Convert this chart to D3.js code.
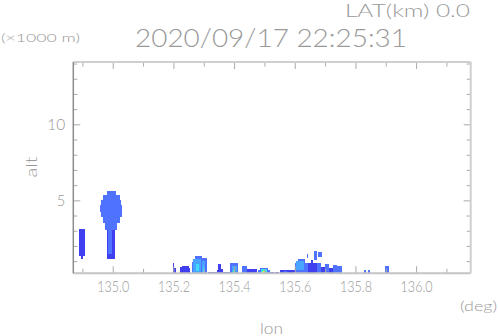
<!DOCTYPE html>
<html>
<head>
<meta charset="utf-8">
<script src="https://cdn.jsdelivr.net/npm/d3@7"></script>
<style>
  body { margin: 0; background: #fff; }
  text { font-family: Lato, "DejaVu Sans", sans-serif; font-weight: 300; fill: #999; }
</style>
</head>
<body>
<div id="chart"></div>
<script>
// axis ranges
var lonRange = [134.87, 136.18];
var altRange = [0.2, 14.1];
var lonMajor = [135.0, 135.2, 135.4, 135.6, 135.8, 136.0];
var lonMinor = [134.9, 135.1, 135.3, 135.5, 135.7, 135.9, 136.1];
var altMajor = [5, 10];
var altMinor = [1, 2, 3, 4, 6, 7, 8, 9, 11, 12, 13, 14];

// echo cells: [lon0, lon1, alt0 (km), alt1 (km), rain rate (mm/h)]
var westColumn = [
  [134.889, 134.909, 1.34, 3.11, 0.5],
  [134.894, 134.903, 1.14, 1.34, 0.5]
];
var mainCell = [
  [134.980, 135.011, 5.36, 5.64, 1.5],
  [134.969, 135.024, 5.02, 5.36, 1.5],
  [134.962, 135.027, 4.7, 5.02, 1.5],
  [134.958, 135.030, 4.2, 4.7, 1.5],
  [134.962, 135.030, 3.92, 4.2, 1.5],
  [134.969, 135.024, 3.49, 3.92, 1.5],
  [134.975, 135.015, 3.05, 3.49, 1.5],
  [134.980, 135.007, 1.14, 3.05, 0.5],
  [134.985, 134.996, 1.5, 3.05, 1.5]
];
var lowBand = [
  [135.198, 135.203, 0.2, 0.86, 0.5],
  [135.203, 135.208, 0.2, 0.55, 0.5],
  [135.222, 135.228, 0.2, 0.6, 0.5],
  [135.228, 135.250, 0.2, 0.7, 0.5],
  [135.250, 135.255, 0.2, 0.55, 0.5],
  [135.260, 135.271, 0.2, 0.96, 1.5],
  [135.271, 135.293, 0.2, 1.34, 1.5],
  [135.293, 135.310, 0.2, 1.19, 1.5],
  [135.265, 135.290, 0.2, 1.15, 3],
  [135.294, 135.305, 0.2, 1.0, 3],
  [135.275, 135.285, 0.35, 0.8, 7],
  [135.297, 135.302, 0.3, 0.6, 7],
  [135.314, 135.343, 0.2, 0.3, 0.5],
  [135.343, 135.348, 0.2, 0.4, 0.5],
  [135.348, 135.358, 0.2, 0.81, 0.5],
  [135.358, 135.364, 0.2, 0.5, 0.5],
  [135.364, 135.387, 0.2, 0.28, 0.5],
  [135.387, 135.414, 0.2, 0.9, 1.5],
  [135.392, 135.408, 0.2, 0.7, 3],
  [135.397, 135.403, 0.2, 0.4, 12],
  [135.425, 135.444, 0.2, 0.68, 1.5],
  [135.444, 135.475, 0.2, 0.46, 0.5],
  [135.480, 135.487, 0.2, 0.4, 1.5],
  [135.487, 135.511, 0.2, 0.53, 1.5],
  [135.511, 135.518, 0.2, 0.4, 1.5],
  [135.488, 135.510, 0.2, 0.45, 7],
  [135.492, 135.506, 0.22, 0.4, 12],
  [135.496, 135.503, 0.22, 0.35, 35],
  [135.498, 135.501, 0.24, 0.3, 60],
  [135.520, 135.530, 0.2, 0.3, 0.5],
  [135.535, 135.548, 0.2, 0.3, 0.5],
  [135.551, 135.601, 0.2, 0.42, 0.5],
  [135.565, 135.575, 0.2, 0.35, 1.5],
  [135.601, 135.645, 0.2, 0.86, 1.5],
  [135.612, 135.635, 0.86, 1.14, 1.5],
  [135.605, 135.630, 0.4, 1.0, 3],
  [135.645, 135.672, 0.2, 0.86, 0.5],
  [135.639, 135.645, 1.21, 1.47, 1.5],
  [135.663, 135.672, 1.08, 1.67, 1.5],
  [135.677, 135.689, 1.27, 1.60, 1.5],
  [135.655, 135.660, 0.9, 1.1, 0.5],
  [135.672, 135.685, 0.2, 0.86, 1.5],
  [135.685, 135.700, 0.2, 0.6, 0.5],
  [135.700, 135.712, 0.2, 0.8, 1.5],
  [135.712, 135.725, 0.2, 0.55, 0.5],
  [135.725, 135.740, 0.2, 0.75, 1.5],
  [135.740, 135.755, 0.2, 0.7, 1.5],
  [135.828, 135.835, 0.2, 0.42, 1.5],
  [135.840, 135.847, 0.2, 0.42, 1.5],
  [135.897, 135.912, 0.2, 0.68, 1.5]
];
var rateSteps = [1, 2, 5, 10, 20, 30, 50];
var rateColors = ["#4040f0", "#4f73ff", "#48a4ff", "#3edcff", "#40f0a8", "#b8f040", "#fff040", "#ff3020"];

var W = 498, H = 336;
var margin = { top: 62, right: 27.3, bottom: 62.7, left: 73.3 };
var width = W - margin.left - margin.right,
  height = H - margin.top - margin.bottom;

var svg = d3.select("#chart").append("svg")
  .attr("width", W)
  .attr("height", H);

var x = d3.scaleLinear().domain(lonRange).range([0, width]);
var y = d3.scaleLinear().domain(altRange).range([height, 0]);
var color = d3.scaleThreshold().domain(rateSteps).range(rateColors);

var g = svg.append("g")
  .attr("transform", "translate(" + margin.left + "," + margin.top + ")");

// echoes
var cells = westColumn.concat(mainCell, lowBand);
g.append("g").selectAll("rect")
  .data(cells)
  .enter()
  .append("rect")
  .attr("x", function (d) { return x(d[0]); })
  .attr("width", function (d) { return x(d[1]) - x(d[0]); })
  .attr("y", function (d) { return y(d[3]); })
  .attr("height", function (d) { return y(d[2]) - y(d[3]); })
  .attr("shape-rendering", "crispEdges")
  .style("fill", function (d) { return color(d[4]); });

// inward ticks on all four sides
function tickAxis(axis, tr) {
  var a = g.append("g").attr("transform", tr).call(axis);
  a.select(".domain").remove();
  a.selectAll("line").attr("stroke", "#aaa");
  return a;
}
var fmt = d3.format(".1f");
var xb = tickAxis(d3.axisBottom(x).tickValues(lonMajor).tickSize(-7).tickPadding(7).tickFormat(fmt),
  "translate(0," + height + ")");
tickAxis(d3.axisBottom(x).tickValues(lonMinor).tickSize(-4.5).tickFormat(""), "translate(0," + height + ")");
tickAxis(d3.axisTop(x).tickValues(lonMajor).tickSize(-7).tickFormat(""), "translate(0,0)");
tickAxis(d3.axisTop(x).tickValues(lonMinor).tickSize(-4.5).tickFormat(""), "translate(0,0)");
var yl = tickAxis(d3.axisLeft(y).tickValues(altMajor).tickSize(-7).tickPadding(8), "translate(0,0)");
tickAxis(d3.axisLeft(y).tickValues(altMinor).tickSize(-4).tickFormat(""), "translate(0,0)");
tickAxis(d3.axisRight(y).tickValues(altMajor).tickSize(-7).tickFormat(""), "translate(" + width + ",0)");
tickAxis(d3.axisRight(y).tickValues(altMinor).tickSize(-4).tickFormat(""), "translate(" + width + ",0)");

xb.selectAll("text")
  .attr("font-size", 16)
  .attr("fill", "#999")
  .attr("textLength", 32)
  .attr("lengthAdjust", "spacingAndGlyphs");
yl.selectAll("text")
  .attr("font-size", 16)
  .attr("fill", "#999")
  .attr("textLength", function (d) { return d >= 10 ? 18 : 8.5; })
  .attr("lengthAdjust", "spacingAndGlyphs");

// frame
g.append("line").attr("x1", 0).attr("x2", width).attr("y1", 0).attr("y2", 0)
  .attr("stroke", "#cfcfcf").attr("stroke-width", 2);
g.append("line").attr("x1", 0).attr("x2", width).attr("y1", height).attr("y2", height)
  .attr("stroke", "#c4c4c4").attr("stroke-width", 2);
g.append("line").attr("x1", width).attr("x2", width).attr("y1", 0).attr("y2", height)
  .attr("stroke", "#cfcfcf").attr("stroke-width", 2);
g.append("line").attr("x1", 0).attr("x2", 0).attr("y1", 0).attr("y2", height)
  .attr("stroke", "#8c8c8c").attr("stroke-width", 1.5);

// labels
function label(txt, px, py, size, len, anchor) {
  return svg.append("text")
    .attr("x", px).attr("y", py)
    .attr("font-size", size)
    .attr("text-anchor", anchor || "start")
    .attr("textLength", len)
    .attr("lengthAdjust", "spacingAndGlyphs")
    .text(txt);
}
label("2020/09/17 22:25:31", 135, 47, 26, 272);
label("LAT(km) 0.0", 345, 16.5, 17.5, 125);
label("(\u00d71000 m)", 1, 42.3, 11, 79);
label("lon", 260, 333.5, 16, 23);
label("(deg)", 460, 310.7, 13, 37);
label("alt", 0, 0, 16, 21, "middle")
  .attr("transform", "translate(37,167) rotate(-90)");
</script>
</body>
</html>
